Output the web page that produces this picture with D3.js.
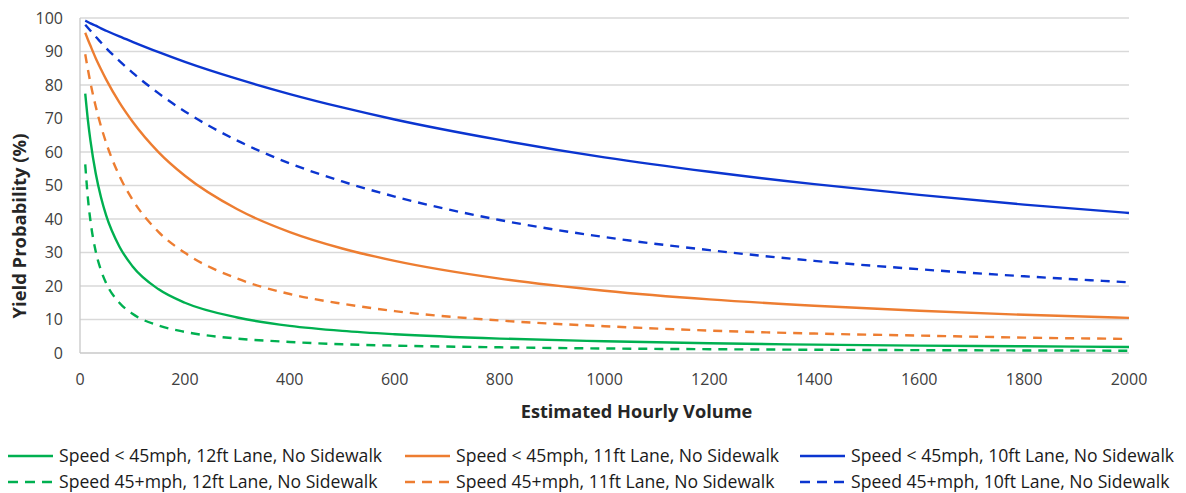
<!DOCTYPE html>
<html><head><meta charset="utf-8">
<script src="https://cdn.jsdelivr.net/npm/d3@7"></script>
<style>body{margin:0;background:#fff}svg{display:block;font-family:"Open Sans",sans-serif}</style>
</head><body><svg id="c" width="1186" height="493"></svg>
<script>
const volumes = [10,15,20,30,40,50,75,100,150,200,300,400,500,600,800,1000,1200,1400,1600,1800,2000];
const greenSolid  = [77.4,69.6,63.3,53.6,46.5,41.0,31.8,25.9,19.0,15.0,10.6,8.1,6.6,5.6,4.3,3.5,2.9,2.5,2.2,2.0,1.8];
const greenDash   = [56.3,46.3,39.4,30.3,24.7,20.8,15.0,11.7,8.2,6.3,4.3,3.3,2.6,2.2,1.7,1.35,1.13,0.97,0.85,0.76,0.68];
const orangeSolid = [95.6,93.6,91.7,88.0,84.7,81.6,74.8,69.1,59.9,52.9,42.9,36.1,31.2,27.5,22.2,18.6,16.0,14.1,12.6,11.4,10.5];
const orangeDash  = [89.2,84.7,80.6,73.6,67.7,62.7,52.9,45.8,36.1,29.9,22.2,17.6,14.7,12.5,9.7,8.0,6.7,5.8,5.2,4.6,4.2];
const blueSolid   = [99.2,98.8,98.4,97.7,96.9,96.2,94.5,92.9,89.8,86.9,81.8,77.3,73.3,69.7,63.6,58.4,54.1,50.4,47.2,44.3,41.8];
const blueDash    = [98.0,97.1,96.2,94.4,92.7,91.0,87.2,83.7,77.5,72.1,63.4,56.6,51.2,46.7,39.7,34.6,30.7,27.5,25.0,22.9,21.1];
const seriesNames = ["Speed < 45mph, 12ft Lane, No Sidewalk","Speed < 45mph, 11ft Lane, No Sidewalk","Speed < 45mph, 10ft Lane, No Sidewalk",
                     "Speed 45+mph, 12ft Lane, No Sidewalk","Speed 45+mph, 11ft Lane, No Sidewalk","Speed 45+mph, 10ft Lane, No Sidewalk"];
const xTicks = [0,200,400,600,800,1000,1200,1400,1600,1800,2000];
const yTicks = [0,10,20,30,40,50,60,70,80,90,100];

const GREEN="#00b050", ORANGE="#ed7d31", BLUE="#0b35d0";
const series = [
  {name:seriesNames[0], vals:greenSolid, color:GREEN, dash:null},
  {name:seriesNames[1], vals:orangeSolid, color:ORANGE, dash:null},
  {name:seriesNames[2], vals:blueSolid, color:BLUE, dash:null},
  {name:seriesNames[3], vals:greenDash, color:GREEN, dash:"9,7"},
  {name:seriesNames[4], vals:orangeDash, color:ORANGE, dash:"9,7"},
  {name:seriesNames[5], vals:blueDash, color:BLUE, dash:"9,7"}
];

const svg = d3.select("#c");
const L=80, R=1129, T=18, B=353;
const x = d3.scaleLinear().domain([0,2000]).range([L,R]);
const y = d3.scaleLinear().domain([0,100]).range([B,T]);

svg.append("g").selectAll("line").data(yTicks.filter(d=>d>0)).join("line")
  .attr("x1",L).attr("x2",R).attr("y1",d=>y(d)).attr("y2",d=>y(d))
  .attr("stroke","#d9d9d9").attr("stroke-width",1.3);
svg.append("line").attr("x1",L).attr("x2",L).attr("y1",T).attr("y2",B).attr("stroke","#c8c8c8").attr("stroke-width",1.3);
svg.append("line").attr("x1",L).attr("x2",R).attr("y1",B).attr("y2",B).attr("stroke","#c8c8c8").attr("stroke-width",1.3);

svg.append("g").selectAll("text").data(yTicks).join("text")
  .attr("x",63).attr("y",d=>y(d)).attr("dy","0.35em").attr("text-anchor","end")
  .attr("font-size",16).attr("fill","#404040").text(d=>d);
svg.append("g").selectAll("text").data(xTicks).join("text")
  .attr("x",d=>x(d)).attr("y",379).attr("dy","0.35em").attr("text-anchor","middle")
  .attr("font-size",16).attr("fill","#404040").text(d=>d);

svg.append("text").attr("x",(L+R)/2+32).attr("y",412).attr("dy","0.35em").attr("text-anchor","middle")
  .attr("font-size",18.2).attr("font-weight","bold").attr("fill","#262626").text("Estimated Hourly Volume");
svg.append("text").attr("transform",`translate(20,226) rotate(-90)`).attr("dy","0.35em").attr("text-anchor","middle")
  .attr("font-size",18.4).attr("font-weight","bold").attr("fill","#262626").text("Yield Probability (%)");

const line = d3.line().x((d,i)=>x(volumes[i])).y(d=>y(d)).curve(d3.curveMonotoneX);
svg.append("g").selectAll("path").data(series).join("path")
  .attr("d",d=>line(d.vals)).attr("fill","none").attr("stroke",d=>d.color)
  .attr("stroke-width",2.4).attr("stroke-dasharray",d=>d.dash);

const legX=[8,405,800], legY=[456,482];
const lg = svg.append("g").selectAll("g").data(series).join("g")
  .attr("transform",(d,i)=>`translate(${legX[i%3]},${legY[Math.floor(i/3)]})`);
lg.append("line").attr("x1",0).attr("x2",45).attr("y1",0).attr("y2",0)
  .attr("stroke",d=>d.color).attr("stroke-width",2.4).attr("stroke-dasharray",d=>d.dash?"10,7":null);
lg.append("text").attr("x",51).attr("dy","0.35em").attr("font-size",17.6).attr("fill","#1a1a1a").text(d=>d.name);
</script></body></html>
